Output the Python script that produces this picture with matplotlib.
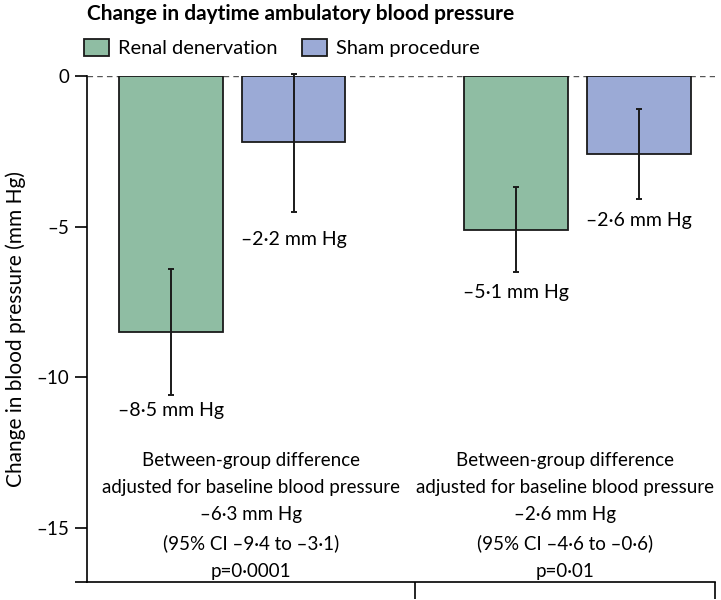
import numpy as np
import matplotlib
matplotlib.use('Agg')
import matplotlib.pyplot as plt

plt.rcParams['font.family'] = ['Lato', 'DejaVu Sans']

# values (mm Hg)
groups = ['group1', 'group2']
renal_mean = [-8.5, -5.1]
renal_lo = [-10.6, -6.5]
renal_hi = [-6.4, -3.7]
sham_mean = [-2.2, -2.6]
sham_lo = [-4.5, -4.1]
sham_hi = [0.05, -1.1]
renal_labels = ['\u20138\u00b75 mm Hg', '\u20135\u00b71 mm Hg']
sham_labels = ['\u20132\u00b72 mm Hg', '\u20132\u00b76 mm Hg']
diff_texts = [
    'Between-group difference\nadjusted for baseline blood pressure\n\u20136\u00b73 mm Hg\n(95% CI \u20139\u00b74 to \u20133\u00b71)\np=0\u00b70001',
    'Between-group difference\nadjusted for baseline blood pressure\n\u20132\u00b76 mm Hg\n(95% CI \u20134\u00b76 to \u20130\u00b76)\np=0\u00b701',
]
yticks = [0, -5, -10, -15]
ytick_labels = ['0', '\u20135', '\u201310', '\u201315']

green = '#8fbda3'
blue = '#9baad6'
edge = '#1a1a1a'
fs = 13.5

fig = plt.figure(figsize=(7.21, 6.0), dpi=100)
ax = fig.add_axes([87 / 721, 18 / 600, (715 - 87) / 721, (582 - 76) / 600])

x = np.arange(len(groups))
off = 0.178
width = 0.30

renal_mean = np.array(renal_mean)
sham_mean = np.array(sham_mean)
renal_err = [renal_mean - np.array(renal_lo), np.array(renal_hi) - renal_mean]
sham_err = [sham_mean - np.array(sham_lo), np.array(sham_hi) - sham_mean]

ax.axhline(0, color='#555555', lw=1.0, ls=(0, (4, 3)), zorder=1)
b1 = ax.bar(x - off, renal_mean, width, color=green, edgecolor=edge, lw=1.3, zorder=2,
            label='Renal denervation')
b2 = ax.bar(x + off, sham_mean, width, color=blue, edgecolor=edge, lw=1.3, zorder=2,
            label='Sham procedure')
ax.errorbar(x - off, renal_mean, yerr=renal_err, fmt='none', ecolor=edge, elinewidth=1.4,
            capsize=2.5, capthick=1.4, zorder=3, clip_on=False)
ax.errorbar(x + off, sham_mean, yerr=sham_err, fmt='none', ecolor=edge, elinewidth=1.4,
            capsize=2.5, capthick=1.4, zorder=3, clip_on=False)

# gap between end of error bar and its label (points)
renal_gap = [-11, -15]
sham_gap = [-20, -15]
for i in range(len(groups)):
    ax.annotate(renal_labels[i], (x[i] - off, renal_lo[i]), xytext=(0, renal_gap[i]),
                textcoords='offset points', ha='center', va='center', fontsize=14)
    ax.annotate(sham_labels[i], (x[i] + off, sham_lo[i]), xytext=(0, sham_gap[i]),
                textcoords='offset points', ha='center', va='center', fontsize=14)

xmin, xmax = -0.421, 1.399
bounds = [xmin, 0.530, xmax]
for i in range(len(groups)):
    ax.text((bounds[i] + bounds[i + 1]) / 2, -14.6, diff_texts[i], ha='center', va='center',
            fontsize=fs, linespacing=1.74)

ax.set_xlim(xmin, xmax)
ax.set_ylim(-16.8, 0)
ax.set_xticks(bounds[1:])
ax.set_xticklabels([])
ax.tick_params(axis='x', direction='out', length=12, width=1.2)
ax.set_yticks(yticks)
ax.set_yticklabels(ytick_labels)
ax.set_yticks([-16.8], minor=True)
ax.tick_params(axis='y', which='both', direction='out', length=9, width=1.2, labelsize=fs, pad=4)
ax.set_ylabel('Change in blood pressure (mm Hg)', fontsize=15, labelpad=7)
for s in ['top', 'right']:
    ax.spines[s].set_visible(False)
for s in ['left', 'bottom']:
    ax.spines[s].set_linewidth(1.2)

fig.text(87 / 721, 1 - 14 / 600, 'Change in daytime ambulatory blood pressure', fontsize=15,
         fontweight='bold', ha='left', va='center')
fig.legend(handles=[b1, b2], loc='center left', bbox_to_anchor=(84 / 721, 1 - 48 / 600),
           ncol=2, frameon=False, fontsize=14.4, handlelength=1.25, handleheight=0.9,
           handletextpad=0.45, columnspacing=1.2, borderpad=0, borderaxespad=0)

fig.savefig('out.png', dpi=100)
